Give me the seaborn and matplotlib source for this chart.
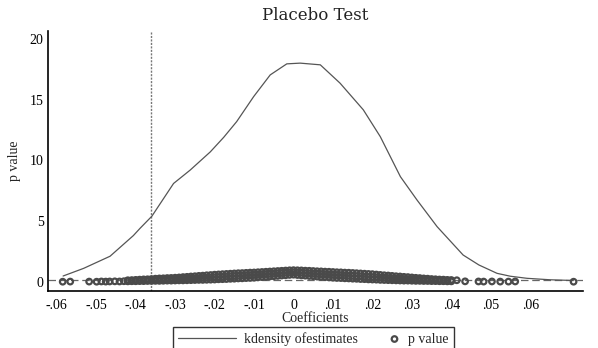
import numpy as np
import pandas as pd
import seaborn as sns
import matplotlib.pyplot as plt
from matplotlib.legend_handler import HandlerPathCollection

# kdensity curve of placebo estimates
kde_x = [-0.0584, -0.0532, -0.0465, -0.0406, -0.0389, -0.0359, -0.0304, -0.0262, -0.0211,
         -0.0177, -0.0144, -0.0101, -0.0059, -0.0017, 0.0017, 0.0068, 0.0118, 0.0177,
         0.0220, 0.0271, 0.0313, 0.0364, 0.0430, 0.0470, 0.0516, 0.0550, 0.0592, 0.0650, 0.0709]
kde_y = [0.47, 1.10, 2.10, 3.80, 4.40, 5.40, 8.10, 9.20, 10.70,
         11.90, 13.20, 15.26, 17.05, 17.96, 18.02, 17.88, 16.37, 14.17,
         11.96, 8.66, 6.74, 4.54, 2.20, 1.38, 0.69, 0.45, 0.28, 0.16, 0.10]

# placebo coefficients and their p values (dense band)
coef = [-0.042, -0.041, -0.040, -0.039, -0.038, -0.037, -0.036, -0.035, -0.034, -0.033,
        -0.032, -0.031, -0.030, -0.029, -0.028, -0.027, -0.026, -0.025, -0.024, -0.023,
        -0.022, -0.021, -0.020, -0.019, -0.018, -0.017, -0.016, -0.015, -0.014, -0.013,
        -0.012, -0.011, -0.010, -0.009, -0.008, -0.007, -0.006, -0.005, -0.004, -0.003,
        -0.002, -0.001, 0.000, 0.001, 0.002, 0.003, 0.004, 0.005, 0.006, 0.007,
        0.008, 0.009, 0.010, 0.011, 0.012, 0.013, 0.014, 0.015, 0.016, 0.017,
        0.018, 0.019, 0.020, 0.021, 0.022, 0.023, 0.024, 0.025, 0.026, 0.027,
        0.028, 0.029, 0.030, 0.031, 0.032, 0.033, 0.034, 0.035, 0.036, 0.037,
        0.038, 0.039, 0.040]
p_low = [0.03, 0.04, 0.04, 0.05, 0.05, 0.06, 0.06, 0.07, 0.07, 0.08,
         0.09, 0.09, 0.10, 0.11, 0.11, 0.12, 0.13, 0.14, 0.15, 0.15,
         0.16, 0.17, 0.18, 0.20, 0.21, 0.22, 0.24, 0.25, 0.27, 0.28,
         0.30, 0.31, 0.33, 0.36, 0.38, 0.40, 0.43, 0.45, 0.48, 0.51,
         0.53, 0.56, 0.58, 0.55, 0.52, 0.50, 0.47, 0.45, 0.42, 0.40,
         0.38, 0.35, 0.33, 0.31, 0.30, 0.28, 0.27, 0.25, 0.24, 0.22,
         0.21, 0.19, 0.18, 0.17, 0.15, 0.14, 0.13, 0.12, 0.11, 0.10,
         0.09, 0.09, 0.08, 0.07, 0.07, 0.06, 0.06, 0.05, 0.05, 0.04,
         0.04, 0.03, 0.03]
p_mid = [0.07, 0.08, 0.09, 0.10, 0.11, 0.12, 0.14, 0.15, 0.16, 0.17,
         0.18, 0.19, 0.21, 0.22, 0.24, 0.25, 0.27, 0.28, 0.30, 0.31,
         0.33, 0.35, 0.37, 0.39, 0.41, 0.43, 0.45, 0.47, 0.49, 0.51,
         0.53, 0.54, 0.56, 0.58, 0.61, 0.63, 0.65, 0.67, 0.70, 0.72,
         0.74, 0.76, 0.78, 0.76, 0.74, 0.71, 0.69, 0.67, 0.65, 0.63,
         0.61, 0.59, 0.57, 0.55, 0.53, 0.51, 0.49, 0.48, 0.46, 0.44,
         0.42, 0.40, 0.38, 0.36, 0.34, 0.32, 0.30, 0.28, 0.26, 0.24,
         0.22, 0.21, 0.19, 0.17, 0.16, 0.14, 0.13, 0.12, 0.11, 0.10,
         0.09, 0.08, 0.07]
p_high = [0.12, 0.13, 0.15, 0.17, 0.19, 0.20, 0.22, 0.25, 0.27, 0.28,
          0.30, 0.31, 0.33, 0.35, 0.38, 0.40, 0.43, 0.45, 0.48, 0.50,
          0.53, 0.55, 0.58, 0.60, 0.62, 0.64, 0.66, 0.68, 0.70, 0.71,
          0.73, 0.75, 0.76, 0.78, 0.80, 0.82, 0.84, 0.86, 0.88, 0.90,
          0.92, 0.94, 0.95, 0.94, 0.93, 0.91, 0.90, 0.88, 0.86, 0.85,
          0.83, 0.82, 0.80, 0.78, 0.77, 0.75, 0.74, 0.72, 0.70, 0.68,
          0.66, 0.64, 0.62, 0.59, 0.56, 0.53, 0.51, 0.48, 0.45, 0.43,
          0.40, 0.38, 0.35, 0.32, 0.30, 0.27, 0.25, 0.22, 0.20, 0.18,
          0.17, 0.15, 0.14]

# sparse tail estimates
tail_coef = [-0.0585, -0.0566, -0.0518, -0.0499, -0.0487, -0.0476, -0.0466, -0.0453, -0.0441, -0.0430,
             0.0414, 0.0435, 0.0469, 0.0482, 0.0503, 0.0524, 0.0545, 0.0562, 0.0710]
tail_p = [0.00, 0.01, 0.01, 0.00, 0.02, 0.01, 0.02, 0.03, 0.02, 0.04,
          0.12, 0.03, 0.02, 0.01, 0.02, 0.01, 0.01, 0.02, 0.00]

true_coef = -0.036
x_ticks = [-0.06, -0.05, -0.04, -0.03, -0.02, -0.01, 0, 0.01, 0.02, 0.03, 0.04, 0.05, 0.06]
x_labels = ['-.06', '-.05', '-.04', '-.03', '-.02', '-.01', '0', '.01', '.02', '.03', '.04', '.05', '.06']
y_ticks = [0, 5, 10, 15, 20]

kde = pd.DataFrame({'coef': kde_x, 'dens': kde_y})
pts = pd.DataFrame({'coef': coef * 3 + tail_coef,
                    'p': p_low + p_mid + p_high + tail_p})


# marker drawn at the right end of its legend key, next to the label
class RightMarker(HandlerPathCollection):
    def get_xdata(self, legend, xdescent, ydescent, width, height, fontsize):
        return [-xdescent, -xdescent + width], [-xdescent + width - 4]


sns.set_theme(style='white')
plt.rcParams['font.family'] = ['Liberation Serif', 'DejaVu Serif']

fig = plt.figure(figsize=(5.98, 3.48), dpi=100)
ax = fig.add_axes([0.0798, 0.1647, 0.8952, 0.7473])

ax.axhline(0.1, color='#666666', lw=0.9, ls=(0, (6, 3)), zorder=1)
ax.axvline(true_coef, color='#777777', lw=1.0, ls=(0, (1.5, 1)), zorder=1)

sns.lineplot(data=kde, x='coef', y='dens', ax=ax, sort=False, color='#555555',
             lw=0.9, label='kdensity ofestimates', legend=False)
sns.scatterplot(data=pts, x='coef', y='p', ax=ax, marker='o', s=16,
                facecolor='none', edgecolor='#4a4a4a', linewidth=1.6,
                label='p value', legend=False, zorder=3)

ax.set_xlim(-0.0623, 0.0734)
ax.set_ylim(-0.74, 20.7)
ax.set_xticks(x_ticks)
ax.set_xticklabels(x_labels)
ax.set_yticks(y_ticks)
ax.tick_params(direction='in', length=4, width=0.9, colors='black', labelsize=10, pad=3)
ax.tick_params(axis='x', pad=6)
for s in ['top', 'right']:
    ax.spines[s].set_visible(False)
for s in ['left', 'bottom']:
    ax.spines[s].set_color('black')
    ax.spines[s].set_linewidth(1.2)

ax.set_xlabel('Coefficients', fontsize=10, labelpad=0)
ax.set_ylabel('p value', fontsize=10, labelpad=6)
ax.set_title('Placebo Test', fontsize=12, pad=8, family=['DejaVu Serif'], color='#222222')

h, l = ax.get_legend_handles_labels()
leg = fig.legend(h, l, loc='upper center', bbox_to_anchor=(0.524, 0.0603), ncol=2,
                 frameon=True, fancybox=False, edgecolor='black', fontsize=10,
                 handlelength=4.2, handletextpad=0.6, columnspacing=-1.2,
                 borderpad=0.35, borderaxespad=0,
                 handler_map={h[1]: RightMarker()})
leg.get_frame().set_linewidth(1.0)

fig.savefig('out.png', dpi=100)
